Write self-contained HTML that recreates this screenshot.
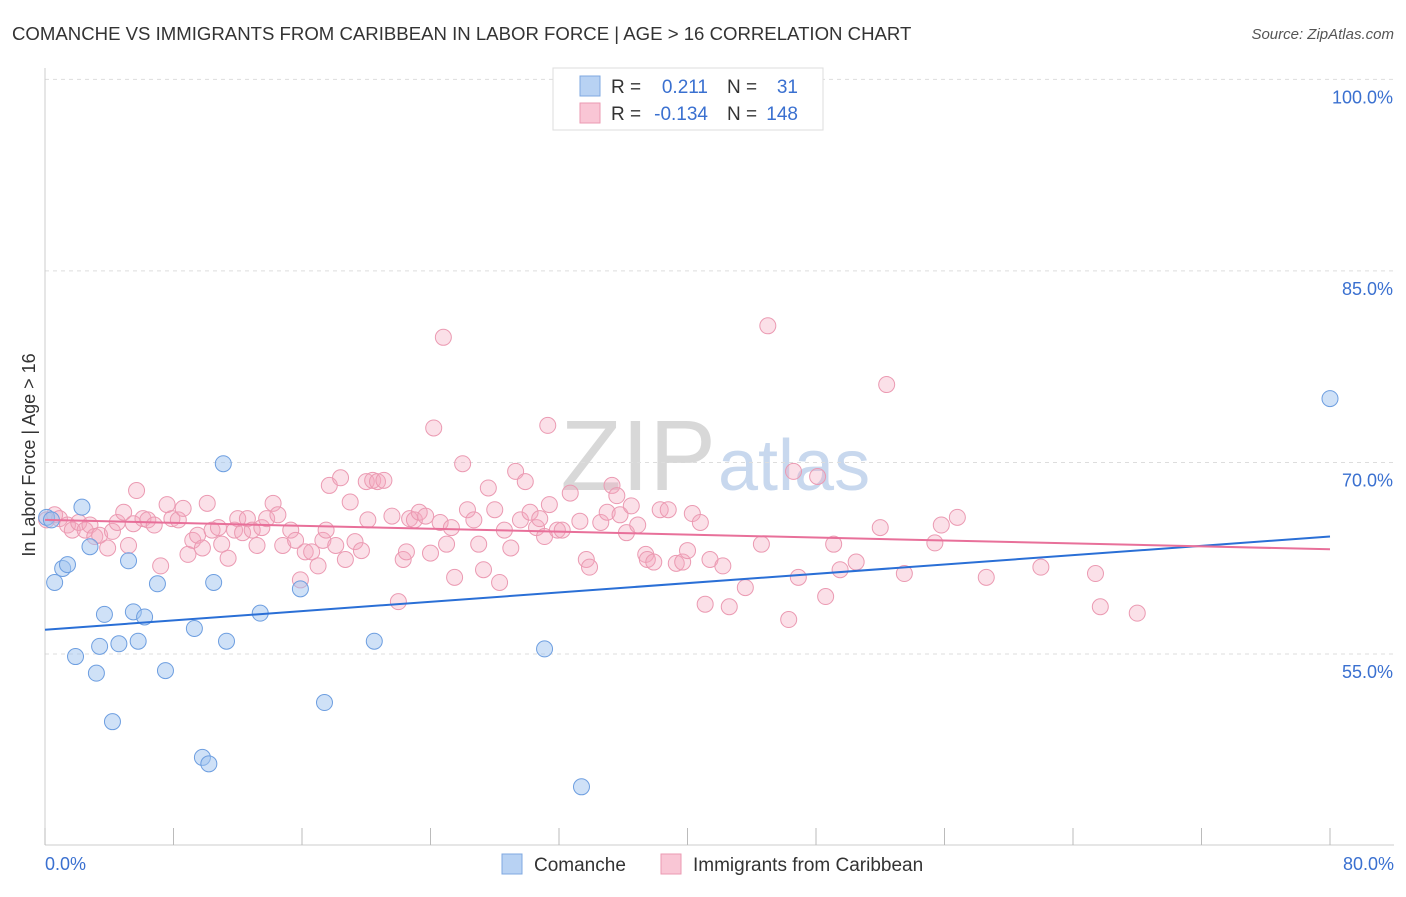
<!DOCTYPE html>
<html><head><meta charset="utf-8"><style>
body{margin:0;background:#fff;font-family:"Liberation Sans",sans-serif;}
svg text{font-family:"Liberation Sans",sans-serif;}
</style></head><body>
<svg id="chart" width="1406" height="892" xmlns="http://www.w3.org/2000/svg">
<text x="12" y="40" font-size="18.6" fill="#333">COMANCHE VS IMMIGRANTS FROM CARIBBEAN IN LABOR FORCE | AGE &gt; 16 CORRELATION CHART</text>
<text x="1394" y="39" font-size="15" fill="#555" font-style="italic" text-anchor="end">Source: ZipAtlas.com</text>
<text x="716" y="490" font-size="100" fill="#d8d8d8" text-anchor="end" font-family="Liberation Serif">ZIP</text>
<text x="718" y="490" font-size="72" fill="#c8d8ee">atlas</text>
<g id="grid"></g>
<g id="axes"></g>
<g id="pts"></g>
<g id="trend"></g>
<text x="35" y="455" font-size="18" fill="#333" text-anchor="middle" transform="rotate(-90 35 455)">In Labor Force | Age &gt; 16</text>
<g>
<rect x="553" y="68" width="270" height="62" fill="#fff" stroke="#ddd"/>
<rect x="580" y="76" width="20" height="20" fill="#b8d2f3" stroke="#7fa8e0"/>
<rect x="580" y="103" width="20" height="20" fill="#f9c6d5" stroke="#eb9ab2"/>
<text x="611" y="93" font-size="19" fill="#333">R =</text>
<text x="708" y="93" font-size="19" fill="#3a70d0" text-anchor="end">0.211</text>
<text x="727" y="93" font-size="19" fill="#333">N =</text>
<text x="798" y="93" font-size="19" fill="#3a70d0" text-anchor="end">31</text>
<text x="611" y="120" font-size="19" fill="#333">R =</text>
<text x="708" y="120" font-size="19" fill="#3a70d0" text-anchor="end">-0.134</text>
<text x="727" y="120" font-size="19" fill="#333">N =</text>
<text x="798" y="120" font-size="19" fill="#3a70d0" text-anchor="end">148</text>
</g>
<g>
<rect x="502" y="854" width="20" height="20" fill="#b8d2f3" stroke="#7fa8e0"/>
<text x="534" y="871" font-size="19" fill="#333">Comanche</text>
<rect x="661" y="854" width="20" height="20" fill="#f9c6d5" stroke="#eb9ab2"/>
<text x="693" y="871" font-size="19" fill="#333">Immigrants from Caribbean</text>
</g>
</svg>
<script>
const yTicks=[55,70,85,100];
const xTickLabels=["0.0%","80.0%"];
const blueX=[0.1,0.4,0.6,1.1,1.4,1.9,2.3,2.8,3.2,3.4,3.7,4.2,4.6,5.2,5.5,5.8,6.2,7.0,7.5,9.3,9.8,10.2,10.5,11.3,11.1,13.4,15.9,17.4,20.5,31.1,33.4,80.0];
const blueY=[65.7,65.5,60.6,61.7,62.0,54.8,66.5,63.4,53.5,55.6,58.1,49.7,55.8,62.3,58.3,56.0,57.9,60.5,53.7,57.0,46.9,46.4,60.6,56.0,69.9,58.2,60.1,51.2,56.0,55.4,44.6,75.0];
const pinkX=[0.1,0.6,0.9,1.4,1.7,2.1,2.5,2.8,3.1,3.4,3.9,4.2,4.5,4.9,5.2,5.5,5.7,6.1,6.4,6.8,7.2,7.6,7.9,8.3,8.6,8.9,9.2,9.5,9.8,10.1,10.4,10.8,11.0,11.4,11.8,12.0,12.3,12.6,12.9,13.2,13.5,13.8,14.2,14.5,14.8,15.3,15.6,15.9,16.2,16.6,17.0,17.3,17.5,17.7,18.1,18.4,18.7,19.0,19.3,19.7,20.1,20.0,20.4,20.7,21.1,21.6,22.0,22.3,22.5,22.7,23.0,23.3,23.7,24.0,24.2,24.6,24.8,25.0,25.3,25.5,26.0,26.3,26.7,27.0,27.3,27.6,28.0,28.3,28.6,29.0,29.3,29.6,29.9,30.2,30.6,30.8,31.1,31.3,31.4,31.9,32.2,32.7,33.3,33.7,33.9,34.6,35.0,35.3,35.6,35.8,36.2,36.5,36.9,37.4,37.5,37.9,38.3,38.8,39.3,39.7,40.0,40.3,40.8,41.1,41.4,42.2,42.6,43.6,44.6,45.0,46.3,46.6,46.9,48.1,48.6,49.1,49.5,50.5,52.0,52.4,53.5,55.4,55.8,56.8,58.6,62.0,65.4,65.7,68.0];
const pinkY=[65.5,65.9,65.6,65.1,64.7,65.3,64.7,65.1,64.2,64.3,63.3,64.6,65.3,66.1,63.5,65.2,67.8,65.6,65.5,65.1,61.9,66.7,65.6,65.5,66.4,62.8,63.9,64.3,63.3,66.8,64.7,64.9,63.6,62.5,64.7,65.6,64.5,65.6,64.7,63.5,64.9,65.6,66.8,65.9,63.5,64.7,63.9,60.8,63.0,63.0,61.9,63.9,64.7,68.2,63.5,68.8,62.4,66.9,63.8,63.1,65.5,68.5,68.6,68.5,68.6,65.8,59.1,62.4,63.0,65.6,65.5,66.1,65.8,62.9,72.7,65.3,79.8,63.6,64.9,61.0,69.9,66.3,65.5,63.6,61.6,68.0,66.3,60.6,64.7,63.3,69.3,65.5,68.5,66.1,64.9,65.6,64.2,72.9,66.7,64.7,64.7,67.6,65.4,62.4,61.8,65.3,66.1,68.2,67.4,65.9,64.5,66.6,65.1,62.8,62.4,62.2,66.3,66.3,62.1,62.2,63.1,66.0,65.3,58.9,62.4,61.9,58.7,60.2,63.6,80.7,57.7,69.3,61.0,68.9,59.5,63.6,61.6,62.2,64.9,76.1,61.3,63.7,65.1,65.7,61.0,61.8,61.3,58.7,58.2];
const blueTrend=[56.9,64.2];
const pinkTrend=[65.5,63.2];
const NS="http://www.w3.org/2000/svg";
const X=v=>45+v/80*1285;
const Y=v=>654-(v-55)*12.77;
function mk(tag,attrs,parent){const e=document.createElementNS(NS,tag);for(const k in attrs)e.setAttribute(k,attrs[k]);document.getElementById(parent).appendChild(e);return e;}
yTicks.forEach(t=>{
 const l=mk('line',{x1:45,x2:1394,y1:Y(t),y2:Y(t),stroke:'#ddd','stroke-dasharray':'4,4'},'grid');
 
 
 const tx=mk('text',{x:1393,y:Y(t)+24,'font-size':18,fill:'#3a70d0','text-anchor':'end'},'grid');
 tx.textContent=t.toFixed(1)+'%';
 
 
});
const ax=mk('line',{x1:45,x2:45,y1:68,y2:845,stroke:'#ccc'},'axes');


const bx=mk('line',{x1:45,x2:1394,y1:845,y2:845,stroke:'#ccc'},'axes');


for(let i=0;i<=10;i++){
 const t=mk('line',{x1:X(i*8),x2:X(i*8),y1:828,y2:845,stroke:'#bbb'},'axes');
 
 
}
[[0,'start',45],[80,'end',1394]].forEach((d,i)=>{
 const t=mk('text',{x:d[2],y:870,'font-size':18,fill:'#3a70d0','text-anchor':d[1]},'axes');
 t.textContent=xTickLabels[i];
 
 
});
pinkX.forEach((v,i)=>{
 const c=mk('circle',{cx:X(v),cy:Y(pinkY[i]),r:8,fill:'rgba(244,165,190,0.35)',stroke:'#eb9ab2','stroke-width':1},'pts');
 
 
});
blueX.forEach((v,i)=>{
 const c=mk('circle',{cx:X(v),cy:Y(blueY[i]),r:8,fill:'rgba(160,195,240,0.5)',stroke:'#6d9ee0','stroke-width':1},'pts');
 
 
});
const bt=mk('line',{x1:X(0),x2:X(80),y1:Y(blueTrend[0]),y2:Y(blueTrend[1]),stroke:'#2a6fd6','stroke-width':2},'trend');


const pt=mk('line',{x1:X(0),x2:X(80),y1:Y(pinkTrend[0]),y2:Y(pinkTrend[1]),stroke:'#e8709a','stroke-width':2},'trend');


</script>
</body></html>
